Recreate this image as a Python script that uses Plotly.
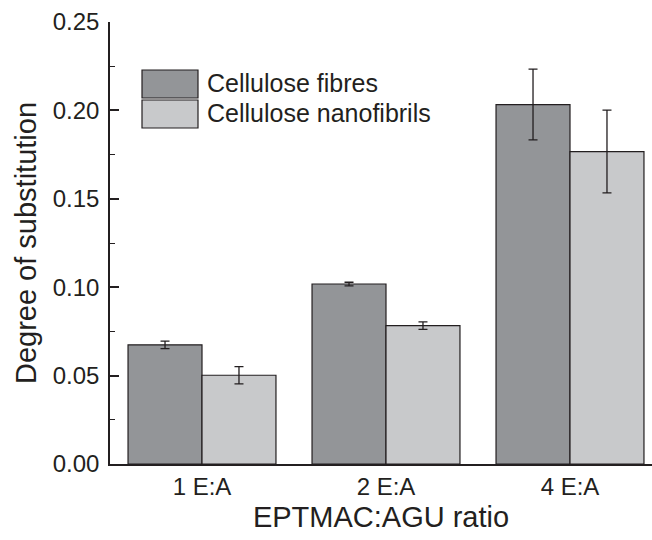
import plotly.graph_objects as go

# ---- data ----
categories = ["1 E:A", "2 E:A", "4 E:A"]
series_names = ["Cellulose fibres", "Cellulose nanofibrils"]
fibres = [0.0674, 0.1018, 0.2033]
fibres_err = [0.0021, 0.0010, 0.0200]
nanofibrils = [0.0502, 0.0783, 0.1767]
nanofibrils_err = [0.0049, 0.0021, 0.0234]
y_ticks = [0.00, 0.05, 0.10, 0.15, 0.20, 0.25]
y_ticklabels = ["0.00", "0.05", "0.10", "0.15", "0.20", "0.25"]

dark = "#939598"
light = "#c8c9cb"
ink = "#231f20"
font_family = "Liberation Sans, Arial, sans-serif"

W, H = 652, 540
ML, MR, MT, MB = 110, 0, 22, 76

fig = go.Figure()
for name, vals, errs, col in [
    (series_names[0], fibres, fibres_err, dark),
    (series_names[1], nanofibrils, nanofibrils_err, light),
]:
    fig.add_trace(go.Bar(
        x=categories, y=vals, name=name,
        marker=dict(color=col, line=dict(color=ink, width=1.2)),
        error_y=dict(type="data", array=errs, visible=True,
                     color=ink, thickness=1.3, width=4.5),
        showlegend=False,
    ))

# custom legend (large swatches like the original)
pw = W - ML - MR
ph = H - MT - MB
def px2paper_x(x):
    return (x - ML) / pw
def px2paper_y(y):
    return (H - MB - y) / ph

legend_rows = [(series_names[0], dark, 70, 98), (series_names[1], light, 100, 128)]
for name, col, y0, y1 in legend_rows:
    fig.add_shape(type="rect", xref="paper", yref="paper",
                  x0=px2paper_x(142), x1=px2paper_x(198),
                  y0=px2paper_y(y1), y1=px2paper_y(y0),
                  fillcolor=col, line=dict(color=ink, width=1.2))
    fig.add_annotation(xref="paper", yref="paper",
                       x=px2paper_x(205), y=px2paper_y((y0 + y1) / 2 - 1),
                       xanchor="left", yanchor="middle", showarrow=False,
                       text=name, font=dict(size=25, color=ink, family=font_family))

fig.update_layout(
    width=W, height=H,
    margin=dict(l=ML, r=MR, t=MT, b=MB, pad=0),
    paper_bgcolor="white", plot_bgcolor="white",
    barmode="group", bargap=0.196, bargroupgap=0,
    font=dict(family=font_family, color=ink),
    xaxis=dict(
        type="category", range=[-0.5, -0.5 + pw / 184.0],
        showline=True, linecolor=ink, linewidth=2,
        ticks="", showgrid=False, zeroline=False,
        tickfont=dict(size=24, color=ink),
        title=dict(text="EPTMAC:AGU ratio", font=dict(size=29, color=ink), standoff=8),
    ),
    yaxis=dict(
        range=[0, 0.25], tickvals=y_ticks, ticktext=y_ticklabels,
        showline=True, linecolor=ink, linewidth=1.5,
        ticks="inside", ticklen=9, tickwidth=1.5, tickcolor=ink,
        minor=dict(ticks="inside", ticklen=5, tickwidth=1.2, tickcolor=ink, dtick=0.025),
        showgrid=False, zeroline=False,
        tickfont=dict(size=24, color=ink),
        ticklabelstandoff=4,
        title=dict(text="Degree of substitution", font=dict(size=29, color=ink), standoff=8),
    ),
)

fig.write_html("out.html")
